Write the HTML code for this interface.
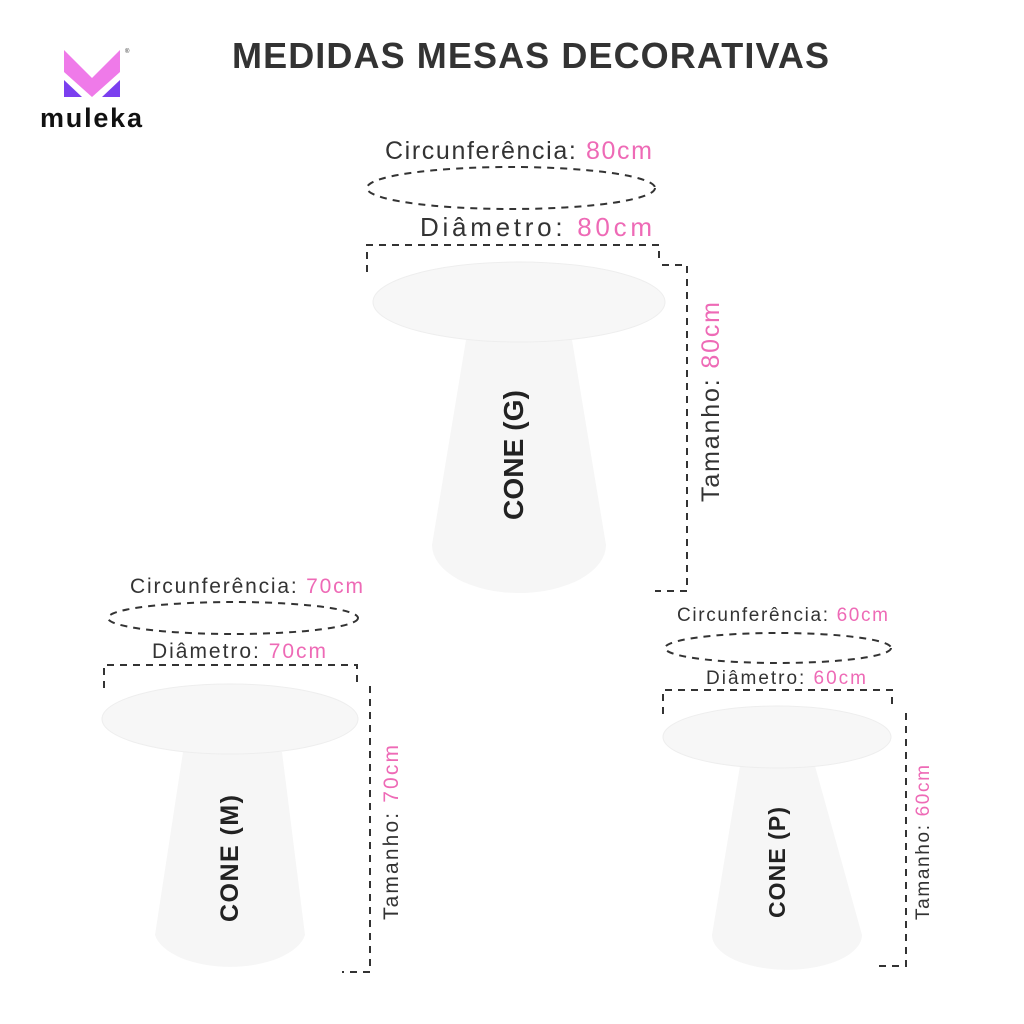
<!DOCTYPE html>
<html><head><meta charset="utf-8"><style>
html,body{margin:0;padding:0;background:#fff;}
svg{display:block;font-family:"Liberation Sans",sans-serif;}
.l{fill:#333;font-size:25px;}
.p{fill:#ee6ab6;}
.d{fill:none;stroke:#333;stroke-width:2;stroke-dasharray:7 6;}
.c{fill:#f6f6f6;}
.t{fill:#f7f7f7;stroke:#eeeeee;stroke-width:1;}
.b{fill:#222;font-weight:bold;font-size:28px;}
</style></head><body>
<svg width="1024" height="1024" viewBox="0 0 1024 1024">
<rect width="1024" height="1024" fill="#fff"/>
<!-- logo -->
<polygon points="64,50 92,78 120,50 120,72 92,97 64,72" fill="#ef7ae9"/>
<polygon points="64,80 82,97 64,97" fill="#7b3fef"/>
<polygon points="120,80 102,97 120,97" fill="#7b3fef"/>
<text x="125" y="53" font-size="6" fill="#333">®</text>
<text x="40" y="127" font-size="27" font-weight="bold" fill="#111" textLength="102" lengthAdjust="spacing">muleka</text>
<text x="232" y="68" font-size="36" font-weight="bold" fill="#333" textLength="597" lengthAdjust="spacing">MEDIDAS MESAS DECORATIVAS</text>

<!-- G -->
<text x="385" y="159" class="l" textLength="267" lengthAdjust="spacing">Circunferência: <tspan class="p">80cm</tspan></text>
<ellipse cx="511" cy="188" rx="144" ry="21" class="d"/>
<text x="420" y="236" class="l" style="font-size:26px" textLength="232" lengthAdjust="spacing">Diâmetro: <tspan class="p">80cm</tspan></text>
<polyline points="367,272 367,245 659,245 659,262" class="d"/>
<polyline points="662,265 687,265 687,591 655,591" class="d"/>
<path d="M466,340 L572,340 L606,545 A87,48 0 0 1 432,545 Z" class="c"/>
<ellipse cx="519" cy="302" rx="146" ry="40" class="t"/>
<text transform="translate(523,520) rotate(-90)" class="b" textLength="130" lengthAdjust="spacing">CONE (G)</text>
<text transform="translate(719,502) rotate(-90)" class="l" textLength="200" lengthAdjust="spacing">Tamanho: <tspan class="p">80cm</tspan></text>

<!-- M -->
<text x="130" y="593" class="l" style="font-size:21px" textLength="233" lengthAdjust="spacing">Circunferência: <tspan class="p">70cm</tspan></text>
<ellipse cx="233" cy="618" rx="125" ry="16" class="d"/>
<text x="152" y="658" class="l" style="font-size:21px" textLength="174" lengthAdjust="spacing">Diâmetro: <tspan class="p">70cm</tspan></text>
<polyline points="104,688 104,665 357,665 357,682" class="d"/>
<polyline points="370,686 370,972 342,972" class="d"/>
<path d="M183,752 L282,752 L305,935 A76,38 0 0 1 155,935 Z" class="c"/>
<ellipse cx="230" cy="719" rx="128" ry="35" class="t"/>
<text transform="translate(238,922) rotate(-90)" class="b" style="font-size:25px" textLength="127" lengthAdjust="spacing">CONE (M)</text>
<text transform="translate(398,920) rotate(-90)" class="l" style="font-size:21px" textLength="175" lengthAdjust="spacing">Tamanho: <tspan class="p">70cm</tspan></text>

<!-- P -->
<text x="677" y="621" class="l" style="font-size:19px" textLength="211" lengthAdjust="spacing">Circunferência: <tspan class="p">60cm</tspan></text>
<ellipse cx="778" cy="648" rx="113" ry="15" class="d"/>
<text x="706" y="684" class="l" style="font-size:19px" textLength="160" lengthAdjust="spacing">Diâmetro: <tspan class="p">60cm</tspan></text>
<polyline points="663,714 663,690 892,690 892,708" class="d"/>
<polyline points="906,713 906,966 877,966" class="d"/>
<path d="M740,766 L815,766 L862,935 A69,32 0 0 1 712,935 Z" class="c"/>
<ellipse cx="777" cy="737" rx="114" ry="31" class="t"/>
<text transform="translate(785,918) rotate(-90)" class="b" style="font-size:23px" textLength="111" lengthAdjust="spacing">CONE (P)</text>
<text transform="translate(929,920) rotate(-90)" class="l" style="font-size:19px" textLength="155" lengthAdjust="spacing">Tamanho: <tspan class="p">60cm</tspan></text>
</svg>
</body></html>
